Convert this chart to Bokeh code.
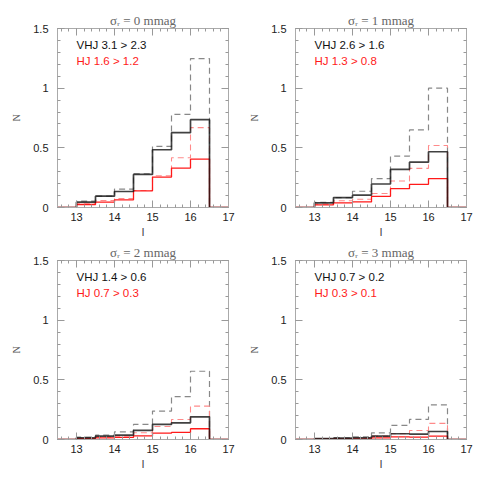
from bokeh.plotting import figure
from bokeh.layouts import row, column
from bokeh.models import Range1d, LinearAxis, SingleIntervalTicker, Label, Title
from bokeh.embed import file_html
from bokeh.resources import INLINE

# ---- data ----
bin_edges = [13.0, 13.5, 14.0, 14.5, 15.0, 15.5, 16.0, 16.5]
x_min, x_max = 12.5, 17.0

sigma_labels = ["0", "1", "2", "3"]
vhj_labels = ["VHJ 3.1 > 2.3", "VHJ 2.6 > 1.6", "VHJ 1.4 > 0.6", "VHJ 0.7 > 0.2"]
hj_labels = ["HJ 1.6 > 1.2", "HJ 1.3 > 0.8", "HJ 0.7 > 0.3", "HJ 0.3 > 0.1"]

vhj_all_0 = [0.053, 0.095, 0.154, 0.283, 0.512, 0.780, 1.248]
vhj_det_0 = [0.045, 0.095, 0.134, 0.277, 0.484, 0.627, 0.736]
hj_all_0 = [0.031, 0.059, 0.076, 0.143, 0.266, 0.417, 0.669]
hj_det_0 = [0.025, 0.045, 0.064, 0.140, 0.255, 0.330, 0.406]

vhj_all_1 = [0.044, 0.083, 0.136, 0.242, 0.430, 0.650, 1.000]
vhj_det_1 = [0.039, 0.083, 0.103, 0.197, 0.319, 0.380, 0.467]
hj_all_1 = [0.028, 0.056, 0.069, 0.117, 0.222, 0.328, 0.519]
hj_det_1 = [0.022, 0.039, 0.047, 0.094, 0.158, 0.194, 0.242]

vhj_all_2 = [0.020, 0.036, 0.064, 0.126, 0.238, 0.359, 0.572]
vhj_det_2 = [0.014, 0.028, 0.036, 0.076, 0.126, 0.140, 0.190]
hj_all_2 = [0.011, 0.020, 0.028, 0.056, 0.109, 0.168, 0.280]
hj_det_2 = [0.008, 0.014, 0.017, 0.031, 0.053, 0.059, 0.090]

vhj_all_3 = [0.008, 0.014, 0.022, 0.056, 0.118, 0.168, 0.290]
vhj_det_3 = [0.008, 0.011, 0.014, 0.028, 0.048, 0.045, 0.067]
hj_all_3 = [0.003, 0.008, 0.011, 0.028, 0.048, 0.076, 0.135]
hj_det_3 = [0.003, 0.006, 0.006, 0.014, 0.022, 0.020, 0.028]

panels = [
    (vhj_all_0, vhj_det_0, hj_all_0, hj_det_0),
    (vhj_all_1, vhj_det_1, hj_all_1, hj_det_1),
    (vhj_all_2, vhj_det_2, hj_all_2, hj_det_2),
    (vhj_all_3, vhj_det_3, hj_all_3, hj_det_3),
]

FRAME_COL = "#aaaaaa"
TICK_COL = "#999999"
SANS = "Liberation Sans"
SERIF = "Liberation Serif"


def step_xy(vals):
    xs = [x_min] + list(bin_edges) + [x_max]
    ys = [0.0] + list(vals) + [0.0, 0.0]
    return xs, ys


def style_axis(ax, show_labels):
    ax.axis_line_color = FRAME_COL
    ax.major_tick_line_color = TICK_COL
    ax.minor_tick_line_color = TICK_COL
    ax.major_tick_in = 7
    ax.major_tick_out = 0
    ax.minor_tick_in = 3
    ax.minor_tick_out = 0
    if show_labels:
        ax.major_label_text_font = SANS
        ax.major_label_text_font_size = "11px"
        ax.major_label_text_color = "#222222"
    else:
        ax.major_label_text_font_size = "0px"
        ax.major_label_text_color = None
        ax.major_label_standoff = 0


def make_panel(i):
    va, vd, ha, hd = panels[i]
    ttl = Title(text="σᵣ = " + sigma_labels[i] + " mmag", align="center",
                text_font=SERIF, text_font_size="13px", text_font_style="normal",
                text_color="#666666", standoff=1, offset=0)
    p = figure(width=238, height=232,
               x_range=Range1d(x_min, x_max), y_range=Range1d(0, 1.5),
               output_backend="svg", toolbar_location=None, title=ttl,
               min_border_left=45, min_border_right=18,
               min_border_top=20, min_border_bottom=33)
    p.grid.visible = False
    p.outline_line_color = FRAME_COL
    p.background_fill_color = "white"
    p.border_fill_color = "white"

    p.xaxis.ticker = SingleIntervalTicker(interval=1, num_minor_ticks=5)
    p.yaxis.ticker = SingleIntervalTicker(interval=0.5, num_minor_ticks=5)
    style_axis(p.xaxis[0], True)
    style_axis(p.yaxis[0], True)
    p.xaxis.major_label_standoff = 5
    p.yaxis.major_label_standoff = 9
    p.xaxis.axis_label = "I"
    p.xaxis.axis_label_text_font = SANS
    p.xaxis.axis_label_text_font_style = "normal"
    p.xaxis.axis_label_text_font_size = "11px"
    p.xaxis.axis_label_text_color = "#444444"
    p.xaxis.axis_label_standoff = 2
    p.yaxis.axis_label = "N"
    p.yaxis.axis_label_text_font = SERIF
    p.yaxis.axis_label_text_font_style = "normal"
    p.yaxis.axis_label_text_font_size = "10px"
    p.yaxis.axis_label_text_color = "#555555"
    p.yaxis.axis_label_standoff = 8

    top = LinearAxis(ticker=SingleIntervalTicker(interval=1, num_minor_ticks=5))
    right = LinearAxis(ticker=SingleIntervalTicker(interval=0.5, num_minor_ticks=5))
    style_axis(top, False)
    style_axis(right, False)
    p.add_layout(top, "above")
    p.add_layout(right, "right")

    xs, ys = step_xy(va)
    p.step(xs, ys, mode="after", line_color="#888888", line_width=1.2, line_dash="6 4")
    xs, ys = step_xy(ha)
    p.step(xs, ys, mode="after", line_color="#ff8a8a", line_width=1.1, line_dash="6 4")
    xs, ys = step_xy(hd)
    p.step(xs, ys, mode="after", line_color="#ff1a1a", line_width=1.3)
    xs, ys = step_xy(vd)
    p.step(xs, ys, mode="after", line_color="#111111", line_width=1.7, line_alpha=0.8)

    p.add_layout(Label(x=13.0, y=1.36, text=vhj_labels[i], text_font=SANS,
                       text_font_size="11.5px", text_color="#111111",
                       text_baseline="middle", text_align="left"))
    p.add_layout(Label(x=13.0, y=1.23, text=hj_labels[i], text_font=SANS,
                       text_font_size="11.5px", text_color="#ff1a1a",
                       text_baseline="middle", text_align="left"))
    return p


figs = [make_panel(i) for i in range(4)]
layout = column(row(figs[0], figs[1], spacing=0), row(figs[2], figs[3], spacing=0),
                spacing=0, margin=(8, 0, 0, 8))

open("out.html", "w").write(file_html(layout, INLINE))
